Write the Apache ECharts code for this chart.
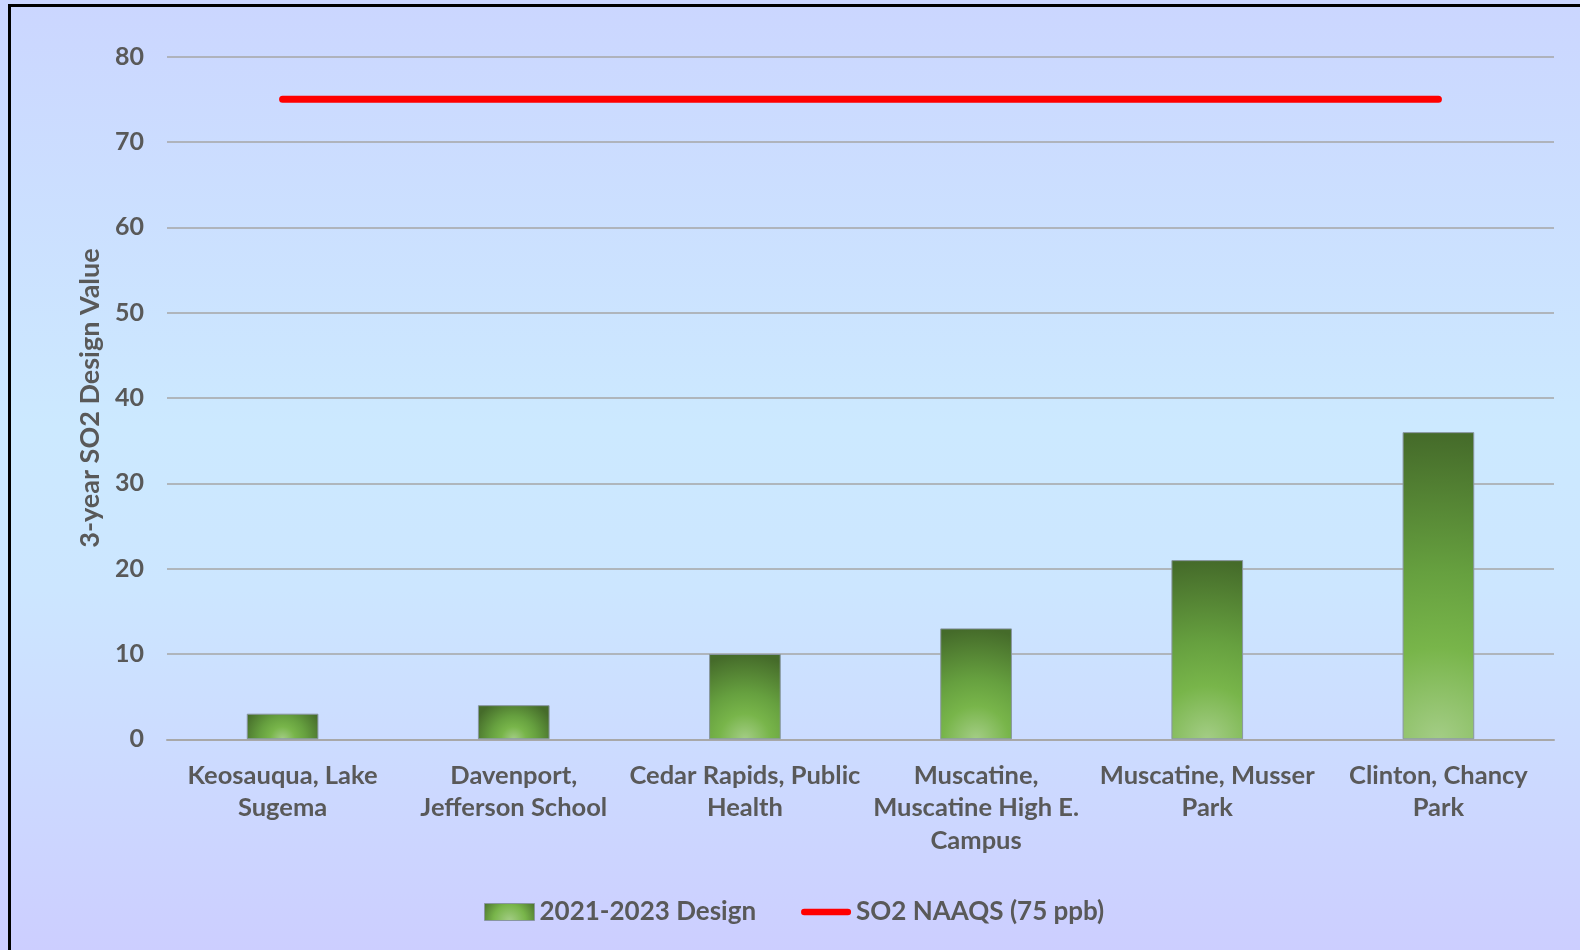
<!DOCTYPE html>
<html>
<head>
<meta charset="utf-8">
<script src="https://cdn.jsdelivr.net/npm/echarts@6/dist/echarts.min.js"></script>
<style>
html,body{margin:0;padding:0;width:1580px;height:950px;overflow:hidden;}
#chart{position:absolute;left:0;top:0;width:1580px;height:950px;}
#frame{position:absolute;left:8px;top:4px;width:1580px;height:960px;border-top:3.5px solid #000;border-left:3.5px solid #000;pointer-events:none;box-sizing:border-box;}
</style>
</head>
<body>
<div id="chart"></div>
<div id="frame"></div>
<script>
const categories = [
  "Keosauqua, Lake\nSugema",
  "Davenport,\nJefferson School",
  "Cedar Rapids, Public\nHealth",
  "Muscatine,\nMuscatine High E.\nCampus",
  "Muscatine, Musser\nPark",
  "Clinton, Chancy\nPark"
];
const designValues = [3, 4, 10, 13, 21, 36];
const naaqsValues = [75, 75, 75, 75, 75, 75];
const yTicks = { min: 0, max: 80, interval: 10 };
const seriesNames = ["2021-2023 Design", "SO2 NAAQS (75 ppb)"];

const FONT = 'Lato';
const TXT = '#595959';
const pxPerUnit = 682.6 / 80;
const barPx = 72;

function barFill(v) {
  const h = Math.max(v * pxPerUnit, 1);
  const R = Math.max(h, 42);
  const r = R / Math.min(barPx, h);
  return new echarts.graphic.RadialGradient(0.5, 1, r, [
    { offset: 0, color: '#a4cd86' },
    { offset: 0.3, color: '#78b54a' },
    { offset: 0.55, color: '#66a03f' },
    { offset: 1, color: '#456b2a' }
  ]);
}

const chart = echarts.init(document.getElementById('chart'), null, { renderer: 'canvas' });
chart.setOption({
  backgroundColor: new echarts.graphic.LinearGradient(0, 0, 0, 1, [
    { offset: 0, color: '#cbd6ff' },
    { offset: 0.45, color: '#cce9ff' },
    { offset: 0.62, color: '#cce6ff' },
    { offset: 1, color: '#ccceff' }
  ]),
  animation: false,
  textStyle: { fontFamily: FONT },
  grid: { left: 167, right: 26, top: 56.7, bottom: 210.7 },
  legend: {
    left: 484,
    top: 899,
    padding: 0,
    itemWidth: 50,
    itemHeight: 17,
    itemGap: 45,
    symbolKeepAspect: true,
    textStyle: { fontFamily: FONT, fontSize: 26, fontWeight: 'bold', color: TXT },
    data: [
      { name: seriesNames[0], icon: 'rect', itemStyle: { color: new echarts.graphic.RadialGradient(0.5, 1, 1.8, [
        { offset: 0, color: '#a4cd86' }, { offset: 0.5, color: '#78b54a' }, { offset: 1, color: '#456b2a' }]), borderColor: '#8896a0', borderWidth: 1 } },
      { name: seriesNames[1], icon: 'path://M3.5,0 H50.5 A3.5,3.5 0 0 1 50.5,7 H3.5 A3.5,3.5 0 0 1 3.5,0 Z', itemStyle: { color: '#ff0000', borderWidth: 0 } }
    ]
  },
  xAxis: {
    type: 'category',
    data: categories,
    axisTick: { show: false },
    axisLine: { lineStyle: { color: '#a8a8a8', width: 2 } },
    axisLabel: {
      color: TXT, fontFamily: FONT, fontSize: 25.5, fontWeight: 'bold',
      lineHeight: 32.5, margin: 20, interval: 0, align: 'center'
    }
  },
  yAxis: {
    type: 'value',
    min: yTicks.min, max: yTicks.max, interval: yTicks.interval,
    name: '3-year SO2 Design Value',
    nameLocation: 'middle',
    nameRotate: 90,
    nameGap: 61,
    nameTextStyle: { color: TXT, fontFamily: FONT, fontSize: 27, fontWeight: 'bold' },
    axisLine: { show: false },
    axisTick: { show: false },
    axisLabel: { color: TXT, fontFamily: FONT, fontSize: 25, fontWeight: 'bold', margin: 23 },
    splitLine: { lineStyle: { color: '#a6a6a6', width: 1.6 } }
  },
  series: [
    {
      name: seriesNames[0],
      type: 'bar',
      barWidth: '31%',
      data: designValues.map(v => ({ value: v, itemStyle: { color: barFill(v) } })),
      itemStyle: { borderColor: '#8896a0', borderWidth: 1 }
    },
    {
      name: seriesNames[1],
      type: 'line',
      data: naaqsValues,
      symbol: 'none',
      lineStyle: { color: '#ff0000', width: 7, cap: 'round' },
      itemStyle: { color: '#ff0000' }
    }
  ]
});
</script>
</body>
</html>
